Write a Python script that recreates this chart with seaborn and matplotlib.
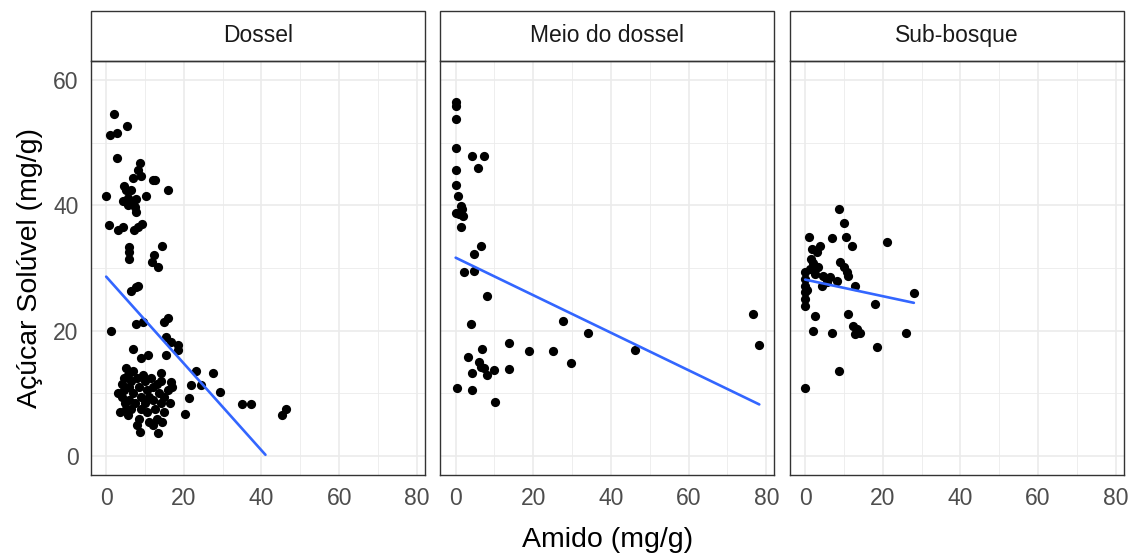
import numpy as np
import pandas as pd
import matplotlib
matplotlib.use("Agg")
import matplotlib.pyplot as plt
from matplotlib.patches import Rectangle
import seaborn as sns

# Amido (x) and açúcar solúvel (y) per estrato
dossel_amido = [2.1, 5.4, 1.1, 2.8, 2.7, 8.7, 8.1, 6.9, 9.0, 12.0, 12.6, 16.0, 0.0, 4.7, 5.1, 6.4,
                10.3, 4.3, 5.6, 6.9, 7.7, 5.6, 7.3, 7.7, 0.6, 3.0, 4.3, 7.1, 9.2, 8.1, 6.0, 6.0,
                6.0, 14.4, 12.4, 11.7, 13.4, 8.1, 7.7, 6.4,
                1.3, 7.7, 9.4, 15.0, 16.0, 15.4, 16.7, 18.4, 18.6, 6.9, 9.0, 10.7, 15.4, 5.1,
                14.0, 23.1, 27.4, 21.9, 24.4, 16.7, 21.4, 29.4, 20.3, 35.1, 37.4, 8.6, 13.3,
                45.4, 46.3,
                4.5, 4.0, 4.5, 4.0, 4.8, 5.0, 5.5, 3.5, 6.0, 6.5, 7.0, 7.5, 6.5, 8.0, 8.5, 9.0,
                9.0, 8.5, 10.0, 10.5, 10.0, 10.5, 11.0, 11.5, 12.0, 12.0, 12.5, 13.0, 13.5, 14.0,
                14.0, 15.0, 15.0, 16.0, 16.5, 17.0, 5.5, 7.0, 9.5, 3.0, 6.0, 11.0, 13.0, 8.0,
                12.0, 14.5]
dossel_acucar = [54.6, 52.6, 51.2, 51.5, 47.6, 46.7, 45.7, 44.4, 44.6, 44.1, 44.0, 42.4, 41.4, 43.1,
                 42.5, 42.5, 41.4, 40.7, 41.2, 40.4, 41.0, 40.0, 39.8, 39.0, 36.8, 36.1, 36.6, 36.1,
                 37.0, 36.5, 33.3, 32.5, 31.5, 33.5, 32.0, 30.9, 30.2, 27.2, 26.9, 26.4,
                 20.0, 21.1, 21.4, 21.4, 22.1, 19.0, 18.2, 17.7, 17.0, 17.1, 15.6, 16.1, 16.1,
                 14.0, 13.2, 13.6, 13.2, 11.4, 11.3, 11.9, 9.3, 10.2, 6.7, 8.3, 8.3, 3.9, 3.7,
                 6.6, 7.6,
                 12.5, 11.5, 10.5, 9.5, 8.5, 7.5, 6.5, 7.0, 11.0, 12.0, 10.0, 8.5, 7.5, 12.5, 11.0,
                 9.5, 7.5, 6.0, 12.0, 10.5, 8.5, 7.0, 5.5, 12.5, 11.0, 9.0, 7.5, 6.0, 10.0, 8.5,
                 12.0, 9.5, 7.0, 10.5, 8.5, 11.0, 13.0, 13.5, 13.0, 10.0, 9.0, 9.5, 11.5, 5.0,
                 5.0, 5.5]

meio_amido = [0.0, 0.0, 0.0, 0.0, 4.3, 7.3, 5.8, 0.0, 0.0, 0.6, 1.3, 1.7, 0.2, 0.9, 2.0, 1.5,
              6.4, 4.7, 2.1, 4.7, 8.0, 3.9, 27.7, 34.0, 46.3, 13.7, 6.9, 19.0, 25.0, 3.2, 6.0,
              6.4, 7.3, 4.3, 8.1, 9.8, 13.7, 29.8, 0.4, 4.3, 10.1, 76.5, 78.2]
meio_acucar = [56.4, 55.9, 53.7, 49.2, 47.9, 47.9, 46.0, 45.7, 43.3, 41.4, 39.9, 39.4, 38.7, 38.6,
               38.3, 36.5, 33.5, 32.2, 29.3, 29.6, 25.6, 21.0, 21.6, 19.7, 17.0, 18.1, 17.1, 16.8,
               16.8, 15.8, 15.0, 14.2, 14.0, 13.2, 13.0, 13.7, 13.9, 14.8, 10.9, 10.5, 8.6, 22.7,
               17.8]

sub_amido = [8.6, 10.0, 1.1, 6.9, 10.5, 12.0, 21.2, 1.7, 3.7, 3.0, 9.0, 9.9, 10.9, 11.1, 2.1,
             3.4, 1.3, 4.7, 6.4, 8.1, 4.3, 0.0, 0.0, 0.0, 0.0, 0.0, 0.0, 12.9, 28.0, 18.0, 2.6,
             11.1, 2.0, 6.9, 12.4, 13.3, 14.1, 12.9, 26.0, 18.6, 8.6, 0.0, 1.5, 2.5, 5.5, 0.5]
sub_acucar = [39.4, 37.1, 34.9, 34.8, 34.9, 33.5, 34.2, 33.1, 33.5, 32.5, 31.0, 30.1, 29.3, 28.7,
              30.8, 30.1, 29.8, 28.8, 28.5, 28.0, 27.2, 29.3, 28.3, 27.2, 26.1, 25.1, 24.0, 27.1,
              26.0, 24.3, 22.4, 22.7, 20.0, 19.7, 20.8, 20.3, 19.7, 19.5, 19.7, 17.4, 13.5, 10.8,
              31.5, 29.0, 27.8, 26.5]

estratos = ["Dossel", "Meio do dossel", "Sub-bosque"]
x_ticks = [0, 20, 40, 60, 80]
y_ticks = [0, 20, 40, 60]

df = pd.concat([
    pd.DataFrame({"amido": dossel_amido, "acucar": dossel_acucar, "estrato": estratos[0]}),
    pd.DataFrame({"amido": meio_amido, "acucar": meio_acucar, "estrato": estratos[1]}),
    pd.DataFrame({"amido": sub_amido, "acucar": sub_acucar, "estrato": estratos[2]}),
], ignore_index=True)

sns.set_style("white")
plt.rcParams["font.family"] = ["Liberation Sans", "DejaVu Sans"]

g = sns.FacetGrid(df, col="estrato", col_order=estratos, sharex=True, sharey=True,
                  height=5.56, aspect=0.68, despine=False)
g.map_dataframe(sns.scatterplot, x="amido", y="acucar", color="black", s=44,
                linewidth=0, zorder=3)

y_lim = (0, 60)
x_lo, x_hi = df["amido"].min(), df["amido"].max()
x_pad = 0.05 * (x_hi - x_lo)
y_pad = 0.05 * (y_lim[1] - y_lim[0])
strip_h = 50 / 414
tick_fs = 16.5

for ax, nome in zip(g.axes.flat, estratos):
    sub = df[df["estrato"] == nome]
    slope, icpt = np.polyfit(sub["amido"], sub["acucar"], 1)
    xs = np.linspace(sub["amido"].min(), sub["amido"].max(), 80)
    ys = icpt + slope * xs
    keep = (ys >= y_lim[0]) & (ys <= y_lim[1])
    sns.lineplot(x=xs[keep], y=ys[keep], ax=ax, color="#3366FF", linewidth=1.9, zorder=4)

    ax.set_xlim(x_lo - x_pad, x_hi + x_pad)
    ax.set_ylim(y_lim[0] - y_pad, y_lim[1] + y_pad)
    ax.set_xticks(x_ticks)
    ax.set_yticks(y_ticks)
    ax.set_xticks([10, 30, 50, 70], minor=True)
    ax.set_yticks([10, 30, 50], minor=True)
    ax.grid(True, which="major", color="#EBEBEB", linewidth=1.2, zorder=0)
    ax.grid(True, which="minor", color="#EBEBEB", linewidth=0.6, zorder=0)
    ax.set_axisbelow(True)
    for sp in ax.spines.values():
        sp.set_color("#333333")
        sp.set_linewidth(1.0)
    ax.tick_params(axis="both", which="major", direction="out", length=5, width=1.0,
                   color="#333333", labelcolor="#4D4D4D", labelsize=tick_fs, pad=4)
    ax.tick_params(axis="both", which="minor", length=0)
    ax.set_title("")
    ax.set_xlabel("")
    ax.set_ylabel("")

    ax.add_patch(Rectangle((0, 1), 1, strip_h, transform=ax.transAxes, facecolor="white",
                           edgecolor="#333333", linewidth=1.0, clip_on=False))
    ax.text(0.5, 1 + strip_h / 2, nome, transform=ax.transAxes, ha="center", va="center",
            fontsize=tick_fs, color="#1A1A1A")

for ax in g.axes.flat[1:]:
    ax.tick_params(axis="y", which="both", left=False, labelleft=False)

fig = g.figure
fig.set_size_inches(11.36, 5.56)
left, right, bottom, top = 0.0801, 0.9894, 0.1457, 0.8903
fig.subplots_adjust(left=left, right=right, bottom=bottom, top=top, wspace=0.0464)

fig.text(0.5 * (left + right), 0.0288, "Amido (mg/g)", ha="center", va="center",
         fontsize=20.5, color="black")
fig.text(0.0264, 0.5 * (bottom + top), "Açúcar Solúvel (mg/g)", ha="center",
         va="center", rotation=90, fontsize=20.5, color="black")

fig.savefig("out.png", dpi=100)
